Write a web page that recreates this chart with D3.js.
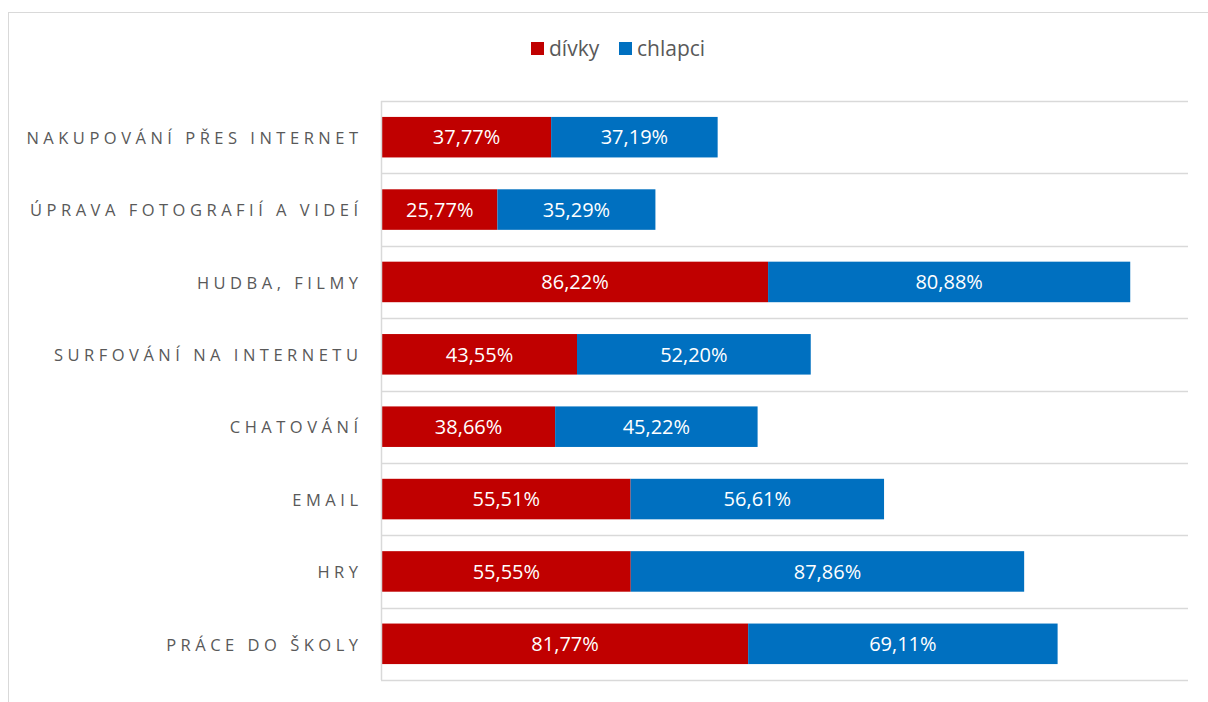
<!DOCTYPE html>
<html>
<head>
<meta charset="utf-8">
<script src="https://cdn.jsdelivr.net/npm/d3@7"></script>
<style>
  body { margin: 0; background: #fff; }
  svg text { font-family: "Open Sans", "Liberation Sans", sans-serif; }
</style>
</head>
<body>
<svg id="chart"></svg>
<script>
const categories = [
    "NAKUPOVÁNÍ PŘES INTERNET",
    "ÚPRAVA FOTOGRAFIÍ A VIDEÍ",
    "HUDBA, FILMY",
    "SURFOVÁNÍ NA INTERNETU",
    "CHATOVÁNÍ",
    "EMAIL",
    "HRY",
    "PRÁCE DO ŠKOLY"
];
const divky = [37.77, 25.77, 86.22, 43.55, 38.66, 55.51, 55.55, 81.77];
const chlapci = [37.19, 35.29, 80.88, 52.20, 45.22, 56.61, 87.86, 69.11];
const seriesNames = ["dívky", "chlapci"];
const seriesColors = ["#c00000", "#0070c0"];

const dimensions = {
    width: 1208,
    height: 702,
    margin: { top: 101, right: 20, bottom: 22, left: 382 }
};

const data = categories.map((c, i) => ({ cat: c, "dívky": divky[i], "chlapci": chlapci[i] }));

const svg = d3.select("#chart")
    .attr("width", dimensions.width)
    .attr("height", dimensions.height);

// outer chart border
svg.append("rect")
    .attr("x", 8.5).attr("y", 12.5)
    .attr("width", 1300).attr("height", 800)
    .attr("fill", "none")
    .attr("stroke", "#d9d9d9")
    .attr("stroke-width", 1);

const innerW = 1188 - dimensions.margin.left;
const innerH = 680 - dimensions.margin.top;

const g = svg.append("g")
    .attr("transform", `translate(${dimensions.margin.left}, ${dimensions.margin.top})`);

const yScale = d3.scaleBand()
    .domain(categories)
    .range([0, innerH])
    .paddingInner(0.44)
    .paddingOuter(0.22);

const xScale = d3.scaleLinear()
    .domain([0, 180])
    .range([0, innerW]);

const color = d3.scaleOrdinal().domain(seriesNames).range(seriesColors);

// gridlines at band boundaries
const bounds = d3.range(categories.length + 1).map(i => i * innerH / categories.length);
g.selectAll(".grid")
    .data(bounds)
    .enter()
    .append("line")
    .attr("x1", -1)
    .attr("x2", innerW)
    .attr("y1", d => Math.round(d) + 0.5)
    .attr("y2", d => Math.round(d) + 0.5)
    .attr("stroke", "#d9d9d9")
    .attr("stroke-width", 1.5);

const layers = d3.stack().keys(seriesNames)(data);

g.selectAll(".layer")
    .data(layers)
    .enter()
    .append("g")
    .attr("class", "layer")
    .attr("fill", d => color(d.key))
    .selectAll("rect")
    .data(d => d)
    .enter()
    .append("rect")
    .attr("y", d => yScale(d.data.cat))
    .attr("x", d => xScale(d[0]))
    .attr("width", d => xScale(d[1]) - xScale(d[0]))
    .attr("height", yScale.bandwidth());

// value labels
g.selectAll(".layer")
    .selectAll(".val")
    .data(d => d)
    .enter()
    .append("text")
    .attr("x", d => (xScale(d[0]) + xScale(d[1])) / 2)
    .attr("y", d => yScale(d.data.cat) + yScale.bandwidth() / 2)
    .attr("dy", "0.36em")
    .attr("text-anchor", "middle")
    .attr("fill", "#fff")
    .style("font-size", "20px")
    .text(d => (d[1] - d[0]).toFixed(2).replace(".", ",") + "%");

// vertical axis line
g.append("line")
    .attr("x1", -0.5).attr("x2", -0.5)
    .attr("y1", 0).attr("y2", innerH)
    .attr("stroke", "#d9d9d9")
    .attr("stroke-width", 1.5);

// category labels
g.selectAll(".cat")
    .data(categories)
    .enter()
    .append("text")
    .attr("x", -19.5)
    .attr("y", d => yScale(d) + yScale.bandwidth() / 2 + 1)
    .attr("dy", "0.35em")
    .attr("text-anchor", "end")
    .attr("fill", "#595959")
    .style("font-size", "16.5px")
    .style("letter-spacing", "4.5px")
    .text(d => d);

// legend
const legendX = [531, 619];
const legend = svg.selectAll(".legend")
    .data(seriesNames)
    .enter()
    .append("g")
    .attr("class", "legend")
    .attr("transform", (d, i) => `translate(${legendX[i]}, 42)`);

legend.append("rect")
    .attr("width", 13)
    .attr("height", 13)
    .attr("fill", d => color(d));

legend.append("text")
    .attr("x", 18)
    .attr("y", 7)
    .attr("dy", "0.35em")
    .attr("fill", "#595959")
    .style("font-size", "21px")
    .text(d => d);
</script>
</body>
</html>
